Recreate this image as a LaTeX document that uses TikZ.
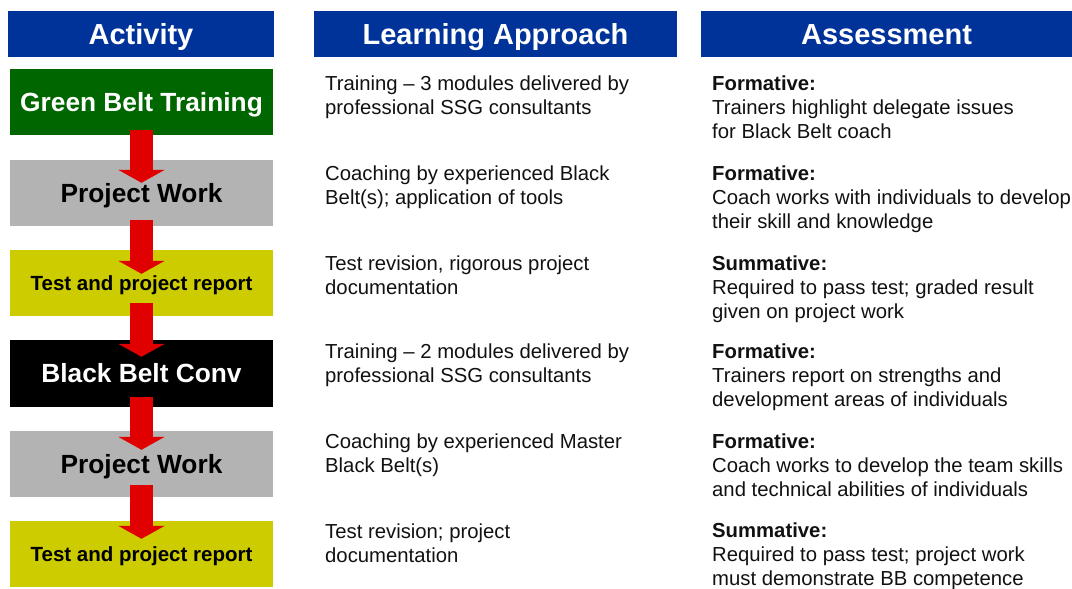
\documentclass[tikz,border=0pt]{standalone}
\usepackage{fontspec}
\setmainfont{Liberation Sans}
\usetikzlibrary{calc,arrows.meta}
\definecolor{hdrblue}{HTML}{003399}
\definecolor{beltgreen}{HTML}{006600}
\definecolor{workgray}{HTML}{B3B3B3}
\definecolor{testyellow}{HTML}{CCCC00}
\definecolor{flowred}{HTML}{E00000}
\definecolor{ink}{HTML}{111111}
\begin{document}
\begin{tikzpicture}[x=1pt,y=-1pt,
  hdr/.style={fill=hdrblue, text=white, inner sep=0pt, minimum height=46pt,
    font=\fontsize{29}{35}\selectfont\bfseries, text height=20.8pt, text depth=0pt},
  actbox/.style={inner sep=0pt, minimum width=263pt, minimum height=66pt,
    font=\fontsize{26.3}{31}\selectfont\bfseries, text height=18.8pt, text depth=0pt},
  smallact/.style={font=\fontsize{20.5}{24}\selectfont\bfseries, text height=14.7pt},
  flow/.style={draw=flowred, line width=23pt, -{Triangle[width=46pt,length=13pt]}},
  body/.style={inner sep=0pt, anchor=base west, text=ink,
    font=\fontsize{20.3}{24}\selectfont}
]
\useasboundingbox (0,0) rectangle (1072,589);

% column headers
\node[hdr, minimum width=266pt] (hAct) at (141,34) {Activity};
\node[hdr, minimum width=363pt] (hLearn) at (495.5,34) {Learning Approach};
\node[hdr, minimum width=371pt] (hAss) at (886.5,34) {Assessment};

% activity boxes
\node[actbox, fill=beltgreen, text=white] (a1) at (141.5,102) {Green Belt Training};
\node[actbox, fill=workgray, text=black] (a2) at (141.5,193) {Project Work};
\node[actbox, smallact, fill=testyellow, text=black] (a3) at (141.5,283) {Test and project report};
\node[actbox, fill=black, text=white, minimum height=67pt] (a4) at (141.5,373.5) {Black Belt Conv};
\node[actbox, fill=workgray, text=black] (a5) at (141.5,464) {Project Work};
\node[actbox, smallact, fill=testyellow, text=black] (a6) at (141.5,554) {Test and project report};

% flow arrows between activities
\draw[flow] ($(a1.south)+(0,-5)$) -- ($(a2.north)+(0,23)$);
\draw[flow] ($(a2.south)+(0,-6)$) -- ($(a3.north)+(0,24)$);
\draw[flow] ($(a3.south)+(0,-13)$) -- ($(a4.north)+(0,17)$);
\draw[flow] ($(a4.south)+(0,-10)$) -- ($(a5.north)+(0,19)$);
\draw[flow] ($(a5.south)+(0,-12)$) -- ($(a6.north)+(0,18)$);

% learning approach
\node[body] (l1) at (325,90) {\begin{tabular}[t]{@{}l@{}}Training – 3 modules delivered by\\professional SSG consultants\end{tabular}};
\node[body] (l2) at (325,180) {\begin{tabular}[t]{@{}l@{}}Coaching by experienced Black\\Belt(s); application of tools\end{tabular}};
\node[body] (l3) at (325,270) {\begin{tabular}[t]{@{}l@{}}Test revision, rigorous project\\documentation\end{tabular}};
\node[body] (l4) at (325,358) {\begin{tabular}[t]{@{}l@{}}Training – 2 modules delivered by\\professional SSG consultants\end{tabular}};
\node[body] (l5) at (325,448) {\begin{tabular}[t]{@{}l@{}}Coaching by experienced Master\\Black Belt(s)\end{tabular}};
\node[body] (l6) at (325,538) {\begin{tabular}[t]{@{}l@{}}Test revision; project\\documentation\end{tabular}};

% assessment
\node[body] (s1) at (712,90) {\begin{tabular}[t]{@{}l@{}}\textbf{Formative:}\\Trainers highlight delegate issues\\for Black Belt coach\end{tabular}};
\node[body] (s2) at (712,180) {\begin{tabular}[t]{@{}l@{}}\textbf{Formative:}\\Coach works with individuals to develop\\their skill and knowledge\end{tabular}};
\node[body] (s3) at (712,270) {\begin{tabular}[t]{@{}l@{}}\textbf{Summative:}\\Required to pass test; graded result\\given on project work\end{tabular}};
\node[body] (s4) at (712,358) {\begin{tabular}[t]{@{}l@{}}\textbf{Formative:}\\Trainers report on strengths and\\development areas of individuals\end{tabular}};
\node[body] (s5) at (712,448) {\begin{tabular}[t]{@{}l@{}}\textbf{Formative:}\\Coach works to develop the team skills\\and technical abilities of individuals\end{tabular}};
\node[body] (s6) at (712,537) {\begin{tabular}[t]{@{}l@{}}\textbf{Summative:}\\Required to pass test; project work\\must demonstrate BB competence\end{tabular}};
\end{tikzpicture}
\end{document}
